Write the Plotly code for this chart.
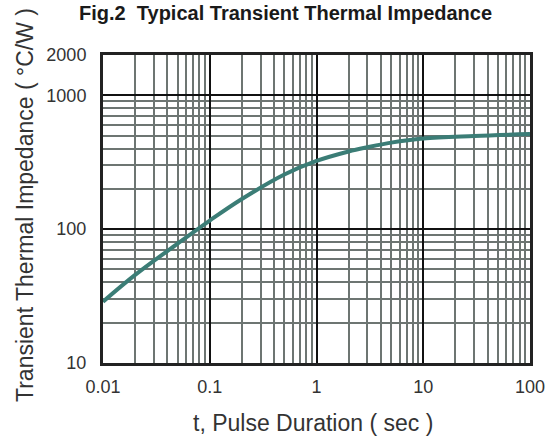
import plotly.graph_objects as go

# Data
pulse_duration_s = [0.01, 0.02, 0.05, 0.1, 0.2, 0.5, 1, 2, 3, 5, 10, 30, 100]
thermal_impedance = [28.7, 45.5, 78, 116, 168, 256, 323, 380, 409, 443, 476, 497, 514]

x_tick_vals = [0.01, 0.1, 1, 10, 100]
x_tick_text = ["0.01", "0.1", "1", "10", "100"]
y_tick_vals = [10, 100, 1000, 2000]
y_tick_text = ["10", "100", "1000", "2000"]

title_text = "<b>Fig.2  Typical Transient Thermal Impedance</b>"
x_title = "t, Pulse Duration ( sec )"
y_title = "Transient Thermal Impedance ( °C/W )"

FONT = "Liberation Sans, Arial, sans-serif"
TXT = "#333333"
MINOR = "#6d7572"
MAJOR = "#111111"

x_minor = [m * 10 ** e for e in range(-2, 2) for m in range(2, 10)]
y_minor = [m * 10 ** e for e in range(1, 3) for m in range(2, 10)]

fig = go.Figure()
fig.add_trace(go.Scatter(
    x=pulse_duration_s, y=thermal_impedance, mode="lines",
    line=dict(color="#3b7d76", width=4, shape="spline", smoothing=1.0),
    hoverinfo="x+y", showlegend=False,
))

fig.update_xaxes(
    type="log", range=[-2, 2],
    tickmode="array", tickvals=x_tick_vals, ticktext=x_tick_text,
    showgrid=True, gridcolor=MAJOR, gridwidth=2,
    minor=dict(tickmode="array", tickvals=x_minor, showgrid=True, gridcolor=MINOR, gridwidth=2, ticks=""),
    showline=True, mirror=True, linecolor="#222222", linewidth=3,
    ticks="", ticklabelstandoff=5,
    tickfont=dict(family=FONT, size=18, color=TXT),
    zeroline=False,
)
fig.update_yaxes(
    type="log", range=[1, 3.30103],
    tickmode="array", tickvals=y_tick_vals, ticktext=y_tick_text,
    showgrid=True, gridcolor=MAJOR, gridwidth=2,
    minor=dict(tickmode="array", tickvals=y_minor, showgrid=True, gridcolor=MINOR, gridwidth=2, ticks=""),
    showline=True, mirror=True, linecolor="#222222", linewidth=3,
    ticks="", ticklabelstandoff=10,
    tickfont=dict(family=FONT, size=18, color=TXT),
    zeroline=False,
)

fig.update_layout(
    width=556, height=442,
    margin=dict(l=103, r=26, t=55, b=79),
    paper_bgcolor="white", plot_bgcolor="white",
    annotations=[
        dict(text=title_text, xref="paper", yref="paper", x=(285 - 103) / 427, y=(363 - 13) / 308,
             xanchor="center", yanchor="middle", showarrow=False,
             font=dict(family=FONT, size=20, color="#1a1a1a")),
        dict(text=x_title, xref="paper", yref="paper", x=(313 - 103) / 427, y=(363 - 423) / 308,
             xanchor="center", yanchor="middle", showarrow=False,
             font=dict(family=FONT, size=23, color=TXT)),
        dict(text=y_title, xref="paper", yref="paper", x=(25 - 103) / 427, y=(363 - 205) / 308,
             xanchor="center", yanchor="middle", showarrow=False, textangle=-90,
             font=dict(family=FONT, size=23, color=TXT)),
    ],
)

fig.write_html("out.html", config={"displayModeBar": False},
               post_script="document.body.style.margin='0';document.body.style.padding='0';")
